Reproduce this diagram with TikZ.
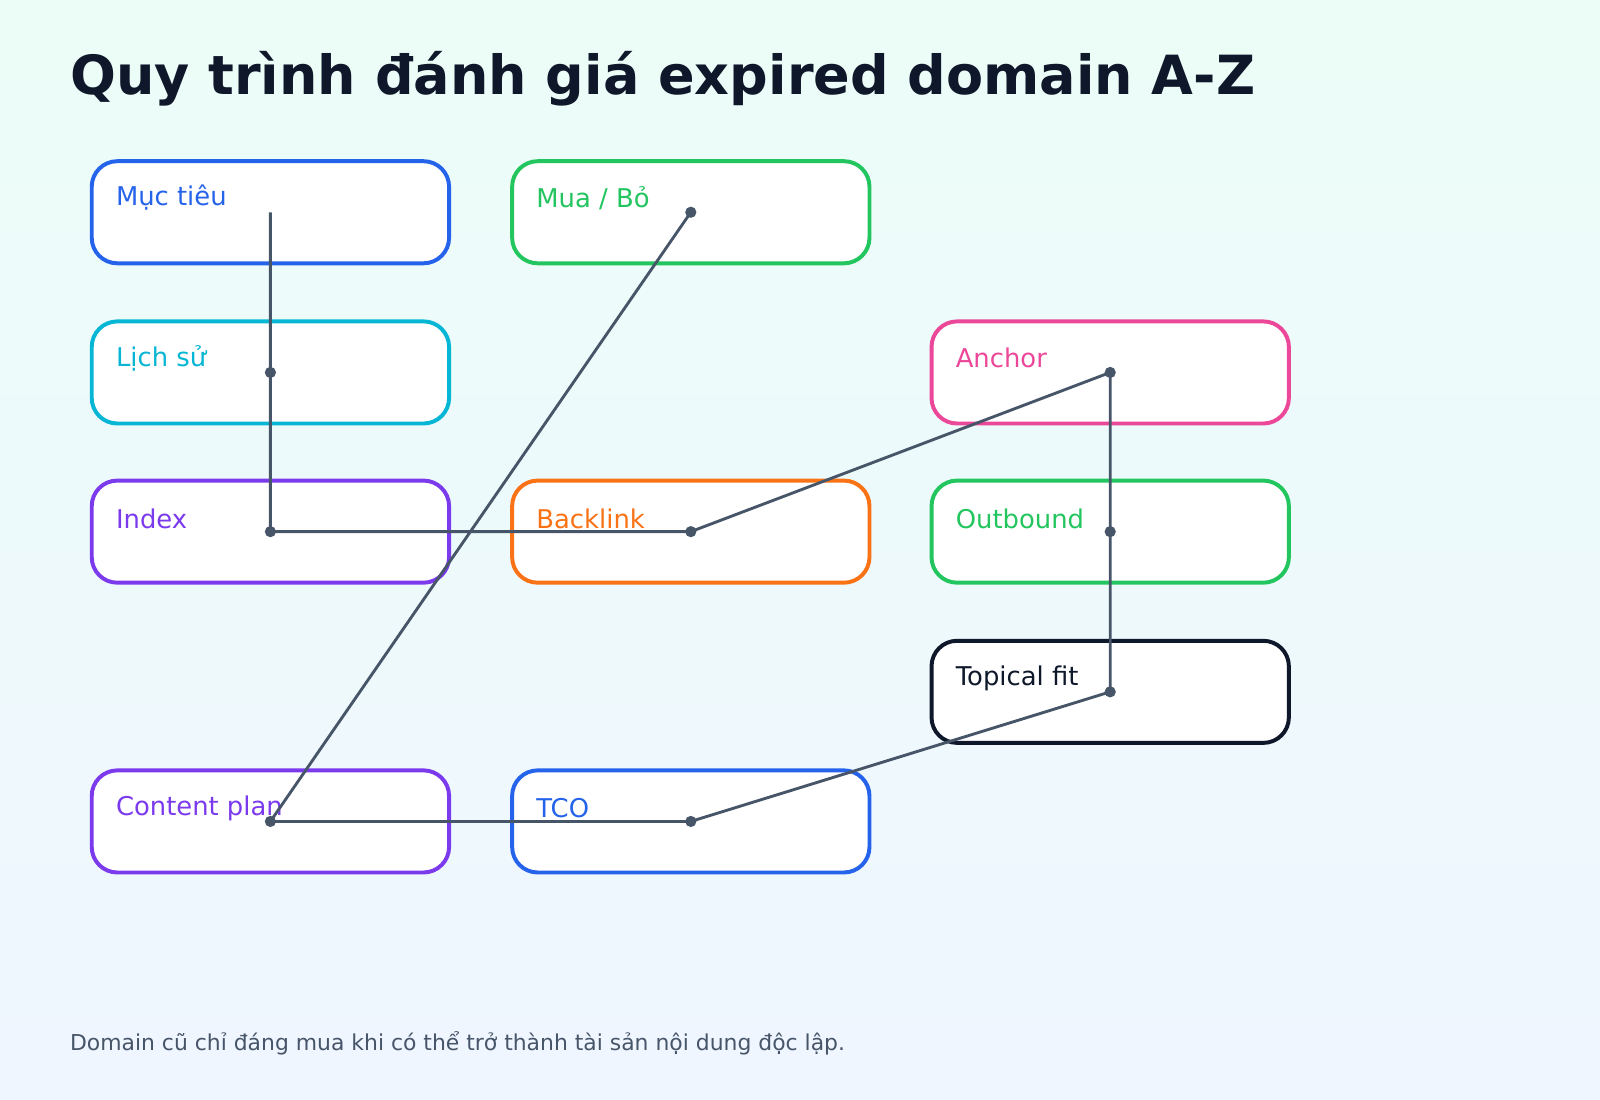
\documentclass[tikz,border=0pt]{standalone}
\usepackage{fontspec}
\setmainfont{DejaVu Sans}
\definecolor{ink}{HTML}{0F172A}
\definecolor{slate}{HTML}{475569}
\definecolor{cblue}{HTML}{2563EB}
\definecolor{cgreen}{HTML}{22C55E}
\definecolor{ccyan}{HTML}{06B6D4}
\definecolor{cpink}{HTML}{EC4899}
\definecolor{cviolet}{HTML}{7C3AED}
\definecolor{corange}{HTML}{F97316}
\definecolor{bgtop}{HTML}{ECFDF8}
\definecolor{bgbot}{HTML}{EFF6FF}
\tikzset{
	box/.style={draw=#1,line width=1.1pt,fill=white,rounded corners=0.25cm,minimum width=3.5cm,minimum height=1cm,inner sep=0pt},
	lbl/.style={anchor=west,text=#1,font=\fontsize{7.2pt}{8.5pt}\selectfont,inner sep=0pt},
	wire/.style={draw=slate,line width=0.8pt},
	dot/.style={circle,fill=slate,inner sep=0pt,minimum size=0.11cm}
}
\begin{document}
\begin{tikzpicture}[x=0.01cm,y=-0.01cm]
	\shade[top color=bgtop,bottom color=bgbot] (0,0) rectangle (1568,1078);
	\useasboundingbox (0,0) rectangle (1568,1078);
	\node[anchor=west,text=ink,font=\fontsize{15.05pt}{18pt}\selectfont\bfseries,inner sep=0pt] at (68,77) {Quy trình đánh giá expired domain A-Z};

	%BOXES
	\node[box=cblue] (mt) at (265,208) {};
	\node[box=cgreen] (mb) at (677,208) {};
	\node[box=ccyan] (ls) at (265,365) {};
	\node[box=cpink] (an) at (1088,365) {};
	\node[box=cviolet] (ix) at (265,521) {};
	\node[box=corange] (bl) at (677,521) {};
	\node[box=cgreen] (ob) at (1088,521) {};
	\node[box=ink] (tf) at (1088,678) {};
	\node[box=cviolet] (cp) at (265,805) {};
	\node[box=cblue] (tco) at (677,805) {};

	%LABELS
	\node[lbl=cblue] at (113,194) {Mục tiêu};
	\node[lbl=cgreen] at (525,194) {Mua / Bỏ};
	\node[lbl=ccyan] at (113,351) {Lịch sử};
	\node[lbl=cpink] at (936,351) {Anchor};
	\node[lbl=cviolet] at (113,508) {Index};
	\node[lbl=corange] at (525,508) {Backlink};
	\node[lbl=cgreen] at (936,508) {Outbound};
	\node[lbl=ink] at (936,665) {Topical fit};
	\node[lbl=cviolet] at (113,792) {Content plan};
	\node[lbl=cblue] at (525,792) {TCO};

	%CONNECTORS
	\draw[wire] (mt.center)--(ls.center)--(ix.center)--(bl.center)--(an.center)--(ob.center)--(tf.center)--(tco.center)--(cp.center)--(mb.center);
	\foreach \n in {ls,ix,bl,an,ob,tf,tco,cp,mb}{
		\node[dot] at (\n.center) {};
	}

	\node[anchor=west,text=slate,font=\fontsize{6.1pt}{7.5pt}\selectfont,inner sep=0pt] at (68,1022) {Domain cũ chỉ đáng mua khi có thể trở thành tài sản nội dung độc lập.};
\end{tikzpicture}
\end{document}
